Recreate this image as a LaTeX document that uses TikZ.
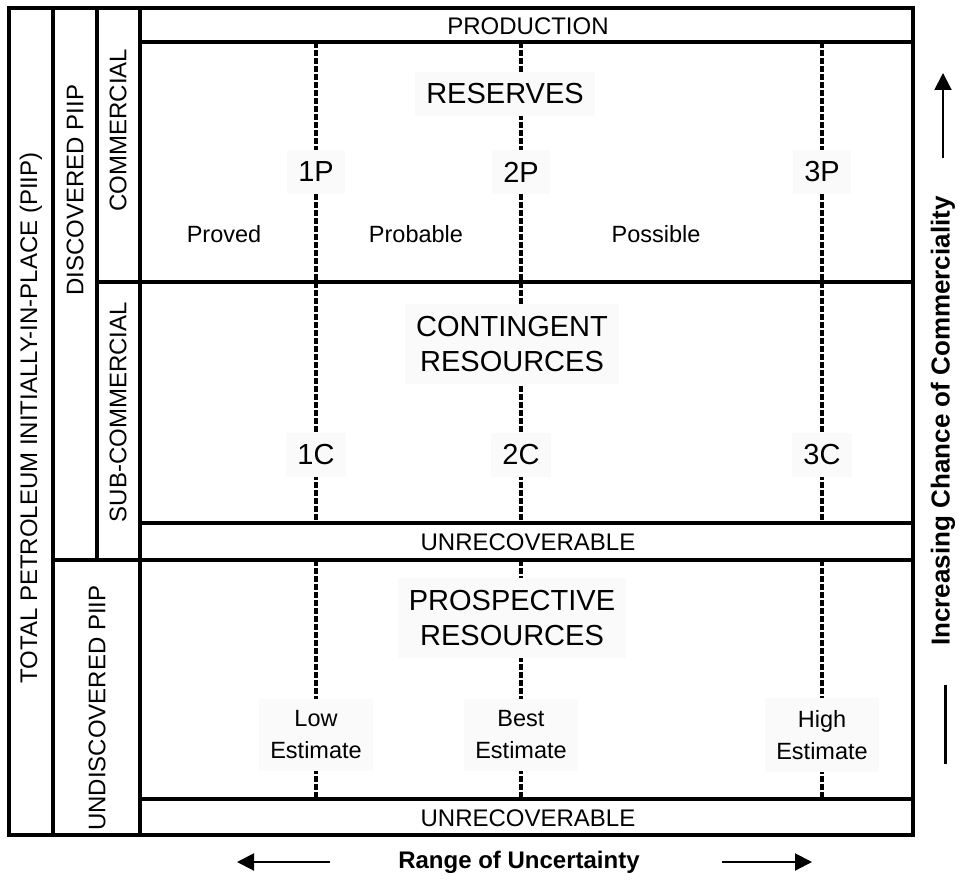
\documentclass[tikz,border=0pt]{standalone}
\usepackage{fontspec}
\setmainfont{Liberation Sans}
\usetikzlibrary{arrows.meta}
\begin{document}
\begin{tikzpicture}[x=1pt,y=-1pt,
  border/.style={line width=3.5pt, line cap=rect},
  dashln/.style={line width=3.6pt, dash pattern=on 6pt off 2pt},
  lbl/.style={fill=black!2, inner xsep=11pt, inner ysep=12pt, align=center},
  big/.style={font=\fontsize{29}{35}\selectfont},
  mid/.style={font=\fontsize{23.5}{32}\selectfont},
  band/.style={font=\fontsize{24}{28}\selectfont},
  side/.style={font=\fontsize{24}{28}\selectfont, rotate=90},
  bold/.style={font=\fontsize{24}{28}\selectfont\bfseries},
  arr/.style={line width=2pt, -{Triangle[width=17pt,length=17pt]}}]
\useasboundingbox (0,0) rectangle (960,880);

% dashed uncertainty lines
\foreach \x/\n in {316/a,521/b,822/c}{
  \draw[dashln] (\x,42) -- (\x,523);
  \draw[dashln] (\x,560) -- (\x,799);
}

% category labels with light boxes
\node[lbl,big] (res) at (505,94) {RESERVES};
\node[lbl,big] (p1) at (316,172) {1P};
\node[lbl,big] (p2) at (521,172) {2P};
\node[lbl,big] (p3) at (822,172) {3P};
\node[mid] (proved) at (224,234) {Proved};
\node[mid] (probable) at (416,234) {Probable};
\node[mid] (possible) at (656,234) {Possible};
\node[lbl,big] (cont) at (512,344) {CONTINGENT\\RESOURCES};
\node[lbl,big] (c1) at (316,455) {1C};
\node[lbl,big] (c2) at (521,455) {2C};
\node[lbl,big] (c3) at (822,455) {3C};
\node[lbl,big] (pros) at (512,618) {PROSPECTIVE\\RESOURCES};
\node[lbl,mid] (low) at (316,735) {Low\\Estimate};
\node[lbl,mid] (best) at (521,735) {Best\\Estimate};
\node[lbl,mid] (high) at (822,735) {High\\Estimate};

% frame
\draw[border] (9,8) rectangle (913,835);
\draw[border] (53,8) -- (53,835);
\draw[border] (97,8) -- (97,560);
\draw[border] (140,8) -- (140,835);
\draw[border] (140,42) -- (913,42);
\draw[border] (97,282) -- (913,282);
\draw[border] (140,523) -- (913,523);
\draw[border] (53,560) -- (913,560);
\draw[border] (140,799) -- (913,799);

% band labels
\node[band] (prod) at (528,26) {PRODUCTION};
\node[band] (unrec1) at (528,542) {UNRECOVERABLE};
\node[band] (unrec2) at (528,818) {UNRECOVERABLE};

% side labels
\node[side] (total) at (31,418) {TOTAL PETROLEUM INITIALLY-IN-PLACE (PIIP)};
\node[side] (disc) at (75,190) {DISCOVERED PIIP};
\node[side] (undisc) at (97,708) {UNDISCOVERED PIIP};
\node[side] (comm) at (118,130) {COMMERCIAL};
\node[side] (subc) at (118,412) {SUB-COMMERCIAL};

% axes
\node[bold,rotate=90,font=\fontsize{26}{30}\selectfont\bfseries] (inc) at (943,421) {Increasing Chance of Commerciality};
\coordinate (upS) at (943,158);
\coordinate (upT) at (943,73);
\draw[arr] (upS) -- (upT);
\coordinate (dnS) at (945,685);
\coordinate (dnT) at (945,764);
\draw[line width=3pt] (dnS) -- (dnT);

\node[bold] (range) at (519,862) {Range of Uncertainty};
\coordinate (lS) at (330,862);
\coordinate (lT) at (237,862);
\draw[arr] (lS) -- (lT);
\coordinate (rS) at (722,862);
\coordinate (rT) at (812,862);
\draw[arr] (rS) -- (rT);
\end{tikzpicture}
\end{document}
